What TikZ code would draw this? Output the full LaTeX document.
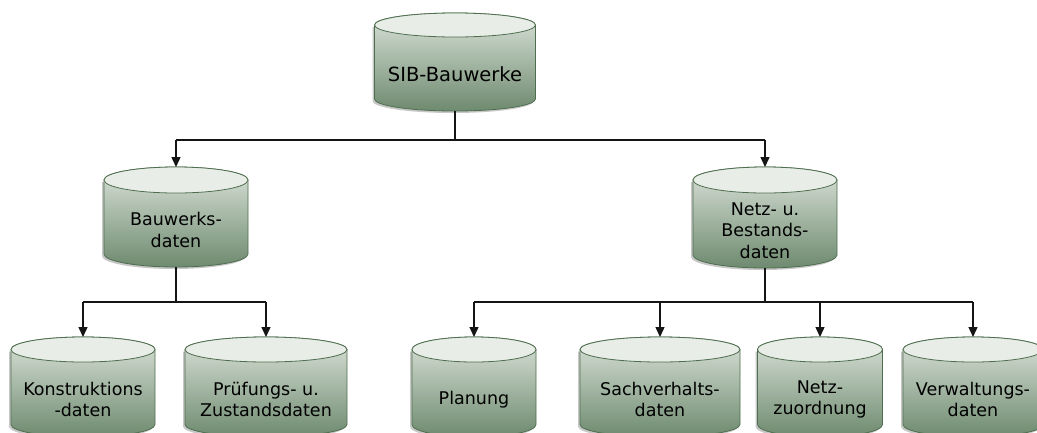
\documentclass[tikz,border=0pt]{standalone}
\usepackage{fontspec}
\setmainfont{DejaVu Sans}
\usetikzlibrary{arrows.meta}
\definecolor{topc}{HTML}{E8EDE7}
\definecolor{bodytop}{HTML}{DAE2D9}
\definecolor{bodybot}{HTML}{6E8A6F}
\definecolor{bord}{HTML}{4F6E4F}
\definecolor{linec}{HTML}{151515}
\tikzset{
  conn/.style={draw=linec,line width=1.4pt},
  arr/.style={conn,-{Triangle[width=9pt,length=10pt]}},
  lbl/.style={font=\fontsize{17.5}{21.5}\selectfont,align=center,text=black,inner sep=0pt},
  bigl/.style={font=\fontsize{19.5}{23}\selectfont,align=center,text=black,inner sep=0pt},
  hull/.style={draw=none,inner sep=0pt,outer sep=0pt}
}
% #1 name, #2 cx, #3 top, #4 width, #5 height, #6 ry, #7 label style, #8 text
\newcommand\dbcyl[8]{%
  \pgfmathsetmacro\cxl{#2-#4/2}%
  \pgfmathsetmacro\cxr{#2+#4/2}%
  \pgfmathsetmacro\rx{#4/2}%
  \pgfmathsetmacro\ytop{-#3-#6}%
  \pgfmathsetmacro\ybot{-#3-#5+#6}%
  \pgfmathsetmacro\ytxt{-#3-#6-#5/2}%
  \fill[black,opacity=.22] (\cxl-2,\ytop-2) -- (\cxl-2,\ybot-2)
     arc[start angle=180,end angle=360,x radius=\rx,y radius=#6] -- (\cxr-2,\ytop-2) -- cycle;
  \shade[top color=bodytop,bottom color=bodybot,draw=bord,line width=0.8pt]
     (\cxl,\ytop) -- (\cxl,\ybot)
     arc[start angle=180,end angle=360,x radius=\rx,y radius=#6]
     -- (\cxr,\ytop) arc[start angle=0,end angle=180,x radius=\rx,y radius=#6] -- cycle;
  \filldraw[fill=topc,draw=bord,line width=0.8pt] (#2,\ytop) ellipse[x radius=\rx,y radius=#6];
  \node[hull,minimum width=#4,minimum height=#5,anchor=north] (#1) at (#2,-#3) {};
  \node[#7] (#1t) at (#2,\ytxt) {#8};
}
\begin{document}
\begin{tikzpicture}[x=1pt,y=1pt]
\clip (0,0) rectangle (1037,-432);
\fill[white] (0,0) rectangle (1037,-432);

\dbcyl{sib}{455}{13}{161}{98}{12}{bigl}{SIB-Bauwerke}
\dbcyl{bw}{176}{167}{144}{100}{13}{lbl}{Bauwerks-\\daten}
\dbcyl{nb}{765}{167}{144}{101}{13}{lbl}{Netz- u.\\Bestands-\\daten}

\dbcyl{ko}{83}{337}{144}{100}{12.5}{lbl}{Konstruktions\\-daten}
\dbcyl{pr}{266}{337}{162}{100}{12.5}{lbl}{Prüfungs- u.\\Zustandsdaten}
\dbcyl{pl}{474}{337}{124}{100}{12.5}{lbl}{Planung}
\dbcyl{sa}{660}{337}{160}{100}{12.5}{lbl}{Sachverhalts-\\daten}
\dbcyl{nz}{820}{337}{125}{100}{12.5}{lbl}{Netz-\\zuordnung}
\dbcyl{ve}{973}{337}{140}{100}{12.5}{lbl}{Verwaltungs-\\daten}

\coordinate (j1) at (0,-140);
\coordinate (j2) at (0,-302);

\draw[conn] (sib.south) -- (sib.south |- j1);
\draw[conn] (j1 -| bw.north) -- (j1 -| nb.north);
\draw[arr] (j1 -| bw.north) -- (bw.north);
\draw[arr] (j1 -| nb.north) -- (nb.north);

\draw[conn] (bw.south) -- (bw.south |- j2);
\draw[conn] (j2 -| ko.north) -- (j2 -| pr.north);
\draw[arr] (j2 -| ko.north) -- (ko.north);
\draw[arr] (j2 -| pr.north) -- (pr.north);

\draw[conn] (nb.south) -- (nb.south |- j2);
\draw[conn] (j2 -| pl.north) -- (j2 -| ve.north);
\draw[arr] (j2 -| pl.north) -- (pl.north);
\draw[arr] (j2 -| sa.north) -- (sa.north);
\draw[arr] (j2 -| nz.north) -- (nz.north);
\draw[arr] (j2 -| ve.north) -- (ve.north);
\end{tikzpicture}
\end{document}
